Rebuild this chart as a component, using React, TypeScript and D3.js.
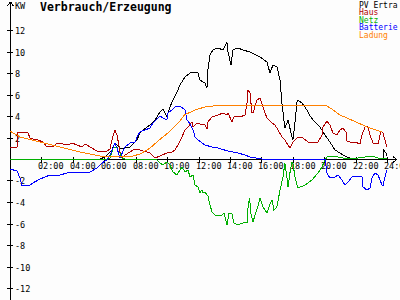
import React from "react";
import * as d3 from "d3";

// time in hours, value in kW
const timeTicks = ["02:00", "04:00", "06:00", "08:00", "10:00", "12:00", "14:00", "16:00", "18:00", "20:00", "22:00", "24:00"];
const valueTicks = [12, 10, 8, 6, 4, 2, -2, -4, -6, -8, -10, -12];
const legendLabels = ["PV Ertra", "Haus", "Netz", "Batterie", "Ladung"];
const legendColors = ["#000000", "#b00000", "#00b000", "#0000ff", "#ff8000"];

const pvErtrag: [number, number][] = [
  [0, 0], [5.73, 0], [6.05, 0.19], [6.49, 0.84], [6.68, 1.49], [7.0, 1.02], [7.32, 1.02], [7.64, 1.12],
  [8.08, 1.77], [8.27, 2.42], [8.47, 2.7], [8.91, 3.16], [9.23, 3.63], [9.55, 4.37], [9.74, 4.65],
  [9.99, 3.9], [10.18, 4.84], [10.38, 5.49], [10.69, 6.42], [10.82, 6.88], [11.14, 7.63], [11.46, 8.0],
  [11.78, 8.09], [11.97, 8.0], [12.09, 7.35], [12.41, 7.07], [12.54, 6.6], [12.6, 8.28], [12.73, 9.67],
  [12.92, 10.14], [13.24, 10.33], [13.56, 10.14], [13.81, 10.88], [13.88, 9.95], [14.07, 8.74],
  [14.19, 10.14], [14.51, 10.33], [14.83, 10.14], [15.28, 9.95], [15.91, 9.49], [16.36, 9.02],
  [16.55, 8.0], [16.74, 8.74], [17.0, 8.56], [17.19, 7.35], [17.31, 5.21], [17.5, 2.88], [17.7, 3.63],
  [17.95, 2.05], [18.01, 1.77], [18.14, 3.35], [18.27, 5.3], [18.33, 5.49], [18.59, 5.21], [18.9, 4.56],
  [19.1, 4.0], [19.41, 3.44], [19.73, 2.98], [20.05, 2.23], [20.37, 1.58], [20.69, 0.84], [21.0, 0.56],
  [21.32, 0.28], [21.64, 0.09], [22.15, 0], [23.74, 0], [23.8, 0.84], [23.93, 0.56], [24, 0.28],
];

const haus: [number, number][] = [
  [0, 1.02], [0.45, 1.12], [0.51, 2.51], [0.76, 2.51], [1.15, 2.42], [1.27, 1.95], [1.46, 1.86],
  [1.78, 1.77], [2.1, 1.58], [2.36, 1.12], [2.74, 1.12], [2.99, 1.49], [3.37, 1.4], [3.69, 1.3],
  [3.95, 1.49], [4.26, 1.3], [4.58, 1.12], [4.77, 1.4], [5.09, 1.12], [5.54, 0.74], [6.17, 0.74],
  [6.37, 0.93], [6.49, 1.77], [6.68, 2.7], [6.81, 2.23], [6.87, 1.77], [7.0, 0.65], [7.13, 0.09],
  [7.32, 0.37], [7.64, 0.65], [7.83, 0.84], [8.27, 0.84], [8.91, 0.56], [9.23, 0.09], [9.55, 0.28],
  [9.99, 0.56], [10.31, 0.65], [10.5, 0.84], [10.69, 1.3], [10.95, 2.05], [11.14, 2.7], [11.33, 2.98],
  [11.59, 3.44], [11.65, 2.98], [11.9, 3.35], [12.09, 3.26], [12.41, 3.16], [12.54, 2.79], [12.6, 3.44],
  [12.86, 3.91], [13.24, 4.09], [13.56, 4.28], [13.81, 4.09], [13.88, 4.28], [14.13, 3.44], [14.26, 3.91],
  [14.64, 3.91], [14.96, 4.09], [15.09, 5.21], [15.15, 6.42], [15.28, 6.14], [15.4, 4.28], [15.47, 4.28],
  [15.72, 5.49], [15.91, 5.67], [16.1, 4.84], [16.36, 3.81], [16.68, 3.35], [16.87, 3.16], [17.06, 2.7],
  [17.31, 2.05], [17.5, 1.77], [17.7, 1.3], [17.82, 1.02], [18.01, 1.58], [18.33, 2.05], [18.65, 1.95],
  [18.97, 1.58], [19.22, 1.49], [19.61, 1.58], [19.86, 2.23], [19.92, 2.98], [20.18, 3.53], [20.37, 3.16],
  [20.56, 2.42], [20.81, 2.23], [21.0, 2.7], [21.2, 2.88], [21.39, 2.51], [21.45, 1.67], [21.64, 1.58],
  [21.96, 1.58], [22.28, 1.4], [22.41, 2.23], [22.6, 2.98], [22.79, 2.98], [22.92, 2.23], [23.11, 1.49],
  [23.43, 1.4], [23.62, 2.6], [23.74, 2.42], [23.87, 1.77], [24, 1.12],
];

const netz: [number, number][] = [
  [0, 0], [6.24, 0], [6.37, 0.09], [6.56, 1.02], [6.81, 1.12], [6.87, 0.65], [7.0, 0.56], [7.13, 0.09],
  [7.32, 0], [9.23, 0], [9.36, -0.09], [9.55, -0.37], [9.74, -0.56], [9.99, -0.28], [10.18, -0.56],
  [10.38, -1.21], [10.63, -1.49], [10.82, -1.02], [10.95, -0.74], [11.14, -1.21], [11.33, -1.02],
  [11.46, -1.67], [11.65, -1.49], [11.78, -2.42], [11.97, -2.6], [12.09, -3.16], [12.22, -2.88],
  [12.28, -3.16], [12.41, -3.07], [12.6, -3.44], [12.73, -4.28], [12.86, -4.93], [13.05, -5.21],
  [13.24, -5.21], [13.5, -5.21], [13.62, -5.02], [13.81, -6.14], [13.94, -5.02], [14.13, -5.12],
  [14.26, -5.95], [14.51, -6.14], [14.83, -5.95], [15.09, -5.95], [15.15, -4.56], [15.25, -3.63],
  [15.34, -5.12], [15.47, -5.86], [15.6, -5.21], [15.79, -4.37], [15.91, -3.63], [16.1, -4.47],
  [16.36, -5.02], [16.55, -4.19], [16.68, -3.81], [16.8, -4.74], [16.99, -4.47], [17.19, -2.88],
  [17.38, -1.67], [17.5, -0.37], [17.63, -1.67], [17.7, -2.6], [17.82, -1.3], [17.95, -0.28],
  [18.01, -0.37], [18.14, -1.67], [18.33, -2.7], [18.78, -2.42], [19.22, -1.95], [19.61, -1.3],
  [19.86, -0.74], [20.05, -0.09], [20.18, 0.19], [20.88, 0.19], [21.52, 0], [22.15, 0.09],
  [22.6, 0.19], [23.04, 0.28], [23.43, 0.09], [24, 0],
];

const batterie: [number, number][] = [
  [0, -0.93], [0.45, -1.12], [0.64, -1.77], [0.76, -2.51], [0.95, -2.51], [1.27, -2.42], [1.46, -2.23],
  [1.91, -1.86], [2.23, -1.67], [2.55, -1.49], [3.18, -1.49], [3.63, -1.3], [4.65, -1.3], [5.09, -1.21],
  [5.54, -0.84], [5.86, -0.37], [6.17, -0.09], [6.37, 0.37], [6.68, 1.49], [6.81, 1.02], [7.0, 0.09],
  [7.32, 1.12], [7.64, 1.49], [7.96, 1.58], [8.15, 2.23], [8.27, 2.51], [8.59, 2.7], [8.91, 2.88],
  [9.1, 3.35], [9.36, 3.72], [9.55, 4.0], [9.74, 3.81], [9.99, 3.63], [10.06, 4.28], [10.31, 4.56],
  [10.5, 4.84], [10.82, 4.93], [11.14, 4.56], [11.27, 3.63], [11.46, 3.26], [11.65, 2.7], [11.78, 2.05],
  [11.97, 1.77], [12.41, 1.3], [12.86, 1.12], [13.24, 1.02], [13.88, 0.74], [14.51, 0.56], [14.96, 0.37],
  [15.28, 0.19], [16.04, 0], [20.05, 0], [20.18, -1.3], [20.37, -1.77], [20.69, -1.67], [20.88, -1.49],
  [21.13, -1.95], [21.32, -2.42], [21.52, -2.14], [21.77, -1.67], [22.15, -1.58], [22.41, -1.67],
  [22.47, -2.6], [22.72, -2.88], [22.92, -2.7], [23.04, -1.77], [23.23, -1.3], [23.43, -1.49],
  [23.68, -2.42], [23.74, -2.51], [23.87, -1.67], [24, -1.02],
];

const ladung: [number, number][] = [
  [0, 2.6], [0.64, 2.05], [1.9, 1.58], [3.2, 1.12], [4.45, 0.65], [5.7, 0.28], [6.7, 0.19], [7.6, 0.19],
  [8.3, 0.47], [8.9, 1.0], [9.5, 1.77], [10.2, 2.6], [10.8, 3.5], [11.1, 4.1], [11.8, 4.56], [12.4, 4.84],
  [13.4, 5.02], [20.05, 5.02], [20.4, 4.74], [21.0, 4.1], [21.6, 3.72], [22.3, 3.26], [22.9, 2.88],
  [23.7, 2.5],
];

const seriesList = [pvErtrag, haus, netz, batterie, ladung];

const W = 400;
const H = 300;
const FONT = "'DejaVu Sans Mono', monospace";

export default function App() {
  const x = d3.scaleLinear().domain([0, 24]).range([10, 387]);
  const y = d3.scaleLinear().domain([-12, 12]).range([288, 30]);
  const line = d3
    .line<[number, number]>()
    .x((d) => x(d[0]))
    .y((d) => y(d[1]));
  const x0 = x(0) + 0.5;
  const y0 = Math.round(y(0)) + 0.5;
  const hourTicks = timeTicks.map((_, i) => (i + 1) * 2);

  return (
    <div style={{ position: "fixed", left: 0, top: 0, width: W, height: H, background: "#fff" }}>
      <svg width={W} height={H} style={{ display: "block" }}>
        <rect x={0} y={0} width={W} height={H} fill="#fdfdfd" />
        {/* axes */}
        <g stroke="#000" strokeWidth={1} shapeRendering="crispEdges" fill="none">
          <line x1={x0} y1={2} x2={x0} y2={H} />
          <line x1={x0} y1={2} x2={x0 - 3} y2={6} />
          <line x1={x0} y1={2} x2={x0 + 3} y2={6} />
          <line x1={x0} y1={y0} x2={397} y2={y0} />
          <line x1={397} y1={y0} x2={393} y2={y0 - 3} />
          <line x1={397} y1={y0} x2={393} y2={y0 + 3} />
          {valueTicks.map((v) => (
            <line key={v} x1={7} x2={13} y1={Math.round(y(v)) + 0.5} y2={Math.round(y(v)) + 0.5} />
          ))}
          {hourTicks.map((h) => (
            <line key={h} x1={Math.round(x(h)) + 0.5} x2={Math.round(x(h)) + 0.5} y1={y0 - 3} y2={y0 + 3} />
          ))}
        </g>
        <g fontFamily={FONT} fontSize={8.5} fill="#000">
          <text x={15} y={8.5}>KW</text>
          {valueTicks.map((v) => (
            <text key={v} x={15} y={Math.round(y(v)) + 3.5}>
              {v}
            </text>
          ))}
          {timeTicks.map((t, i) => (
            <text key={t} x={Math.round(x(hourTicks[i])) - 3} y={168.5}>
              {t}
            </text>
          ))}
        </g>
        <text x={40} y={11} fontFamily={FONT} fontSize={11.5} fontWeight="bold" fill="#000">
          Verbrauch/Erzeugung
        </text>
        {/* series */}
        {seriesList.map((s, i) => (
          <path
            key={i}
            d={line(s) || ""}
            fill="none"
            stroke={legendColors[i]}
            strokeWidth={1}
            shapeRendering="crispEdges"
          />
        ))}
        {/* legend */}
        <g fontFamily={FONT} fontSize={8}>
          {legendLabels.map((l, i) => (
            <text key={l} x={359} y={7.5 + i * 7.6} fill={legendColors[i]}>
              {l}
            </text>
          ))}
        </g>
      </svg>
    </div>
  );
}
